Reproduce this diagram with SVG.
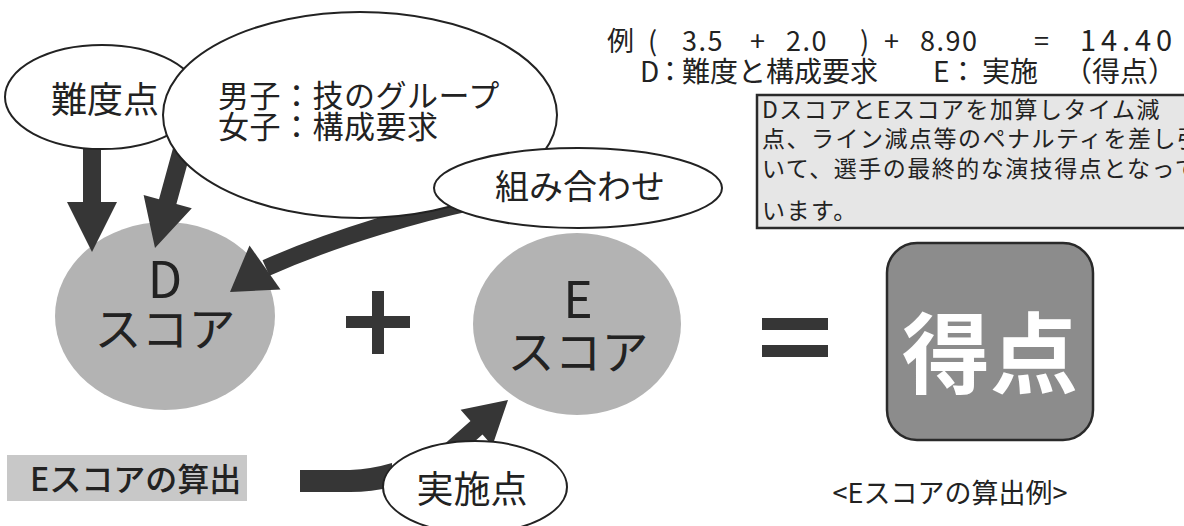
<svg xmlns="http://www.w3.org/2000/svg" width="1184" height="526" viewBox="0 0 1184 526">
<style>
.t{font-family:"Noto Sans CJK JP","Liberation Sans",sans-serif;fill:#222}
.bub{fill:#fff;stroke:#222;stroke-width:2}
.disc{fill:#b3b3b3}
.arr{fill:#363636}
.sym{fill:#363636}
</style>
<rect width="1184" height="526" fill="#fff"/>

<g id="formula">
<text class="t" font-size="27" y="51" letter-spacing="1.5"><tspan x="607">例</tspan><tspan x="648">(</tspan><tspan x="682">3.5</tspan><tspan x="750">+</tspan><tspan x="786">2.0</tspan><tspan x="860">)</tspan><tspan x="884">+</tspan><tspan x="920">8.90</tspan><tspan x="1034">=</tspan></text>
<text class="t" font-size="29" x="1080" y="51" textLength="92" lengthAdjust="spacing">14.40</text>
<text class="t" font-size="28" y="82"><tspan x="640">D</tspan><tspan x="656">：</tspan><tspan x="682">難度と構成要求</tspan><tspan x="933">E</tspan><tspan x="949">：</tspan><tspan x="982">実施</tspan><tspan x="1064">（得点）</tspan></text>
</g>

<g id="note">
<rect x="757" y="95" width="440" height="133" fill="#e6e6e6" stroke="#2a2a2a" stroke-width="2.5"/>
<text class="t" font-size="23" fill="#333" letter-spacing="1.5"><tspan x="762" y="118">DスコアとEスコアを加算しタイム減</tspan><tspan x="762" y="147">点、ライン減点等のペナルティを差し引</tspan><tspan x="762" y="177">いて、選手の最終的な演技得点となって</tspan><tspan x="762" y="219">います。</tspan></text>
</g>

<g id="d-score">
<ellipse class="disc" cx="165" cy="316" rx="110" ry="94"/>
<text class="t" font-size="50" text-anchor="middle" x="165" y="298">D</text>
<text class="t" font-size="47" text-anchor="middle" x="165" y="346">スコア</text>
</g>

<g id="e-score">
<ellipse class="disc" cx="577" cy="324" rx="104" ry="91"/>
<text class="t" font-size="50" text-anchor="middle" x="578" y="318">E</text>
<text class="t" font-size="47" text-anchor="middle" x="578" y="369">スコア</text>
</g>

<g id="plus"><rect class="sym" x="346" y="316" width="64" height="12"/><rect class="sym" x="372" y="291" width="12" height="63"/></g>
<g id="equals"><rect class="sym" x="762" y="318" width="66" height="12"/><rect class="sym" x="762" y="345" width="66" height="12"/></g>

<g id="score">
<rect x="887" y="243" width="206" height="197" rx="30" fill="#8c8c8c" stroke="#2a2a2a" stroke-width="2.5"/>
<text font-family="Noto Sans CJK JP, sans-serif" font-weight="bold" font-size="88" fill="#fff" text-anchor="middle" x="990" y="386">得点</text>
</g>

<g id="connectors">
<polygon class="arr" points="83,140 83,202 67,202 92,252 117,202 101,202 101,140"/>
<polygon class="arr" points="177.3,132.6 159,199.3 143.6,195.1 155,248 191.8,208.3 176.4,204.1 194.7,137.4"/>
<path d="M472,202 C425,212 340,235 266,268" fill="none" stroke="#363636" stroke-width="17"/>
<polygon class="arr" points="249.5,245.4 280.5,289.6 230,292"/>
<path class="arr" d="M300,470 L350,470 Q372,469 392,463 L392,487 Q372,492 350,492 L300,492 Z"/>
<polygon class="arr" points="434,453.25 470.5,421.1 460.6,409.8 508,400 492.4,445.8 482.5,434.6 446,466.75"/>
</g>

<g id="nandoten">
<ellipse class="bub" cx="102" cy="97" rx="97" ry="52"/>
<text class="t" font-size="36" text-anchor="middle" x="105" y="113">難度点</text>
</g>

<g id="groups">
<ellipse class="bub" cx="360" cy="115" rx="197" ry="103"/>
<text class="t" font-size="31" letter-spacing="0.5"><tspan x="218" y="107">男子：技のグループ</tspan><tspan x="218" y="138">女子：構成要求</tspan></text>
</g>

<g id="kumiawase">
<ellipse class="bub" cx="578" cy="188" rx="144" ry="40"/>
<text class="t" font-size="34" text-anchor="middle" x="580" y="199">組み合わせ</text>
</g>

<g id="e-calc">
<rect x="7" y="455" width="240" height="46" fill="#c8c8c8"/>
<text class="t" font-size="32" font-weight="500" x="30" y="491">Eスコアの算出</text>
</g>

<g id="jisshiten">
<ellipse class="bub" cx="475" cy="487" rx="92" ry="46"/>
<text class="t" font-size="37" text-anchor="middle" x="472" y="503">実施点</text>
</g>

<g id="caption">
<text class="t" font-size="27" text-anchor="middle" x="950" y="503">&lt;Eスコアの算出例&gt;</text>
</g>
</svg>
